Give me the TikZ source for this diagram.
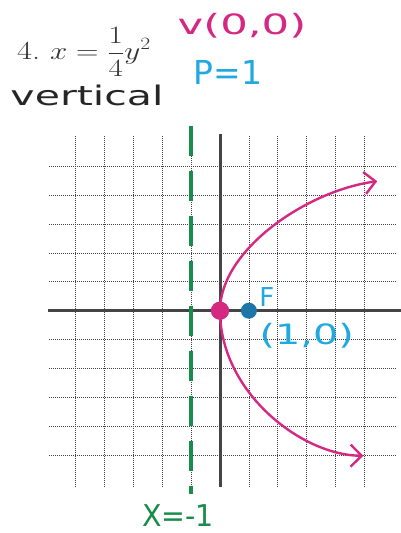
\documentclass[tikz,border=0pt]{standalone}
\usepackage{fontspec}
\usetikzlibrary{arrows.meta}
\newfontfamily\handfont{DejaVu Sans}
\definecolor{mag}{RGB}{212,40,130}
\definecolor{cya}{RGB}{32,168,224}
\definecolor{grn}{RGB}{24,140,74}
\definecolor{fblue}{RGB}{28,118,168}
\definecolor{axisc}{RGB}{68,68,68}
\begin{document}
\begin{tikzpicture}[x=1pt,y=-1pt,
  gridline/.style={draw=black!75, line width=0.65pt, dash pattern=on 0.9pt off 1.1pt},
  axisline/.style={draw=axisc, line width=3pt},
  directrix/.style={draw=grn, line width=3.6pt, dash pattern=on 30pt off 15pt},
  curve/.style={draw=mag, line width=2.4pt, line cap=round, line join=round},
  bothbarbs/.style={arrows={Straight Barb[length=11pt,width=22pt]-Straight Barb[length=11pt,width=22pt]}},
  handtext/.style={font=\handfont, inner sep=0pt},
  pt/.style={circle, inner sep=0pt, draw=none}]
\useasboundingbox (0,0) rectangle (401,533);
\fill[white] (0,0) rectangle (401,533);
% header texts
\node[inner sep=0pt, text=black!80, font=\fontsize{26}{30}\selectfont, xscale=1.25] (eq) at (84,52) {4.\ $\displaystyle x=\frac{1}{4}y^{2}$};
\node[handtext, text=black!85, font=\handfont\fontsize{27}{30}\selectfont, xscale=1.52] (vert) at (87,95) {vertical};
\node[handtext, text=mag, font=\handfont\fontsize{28}{30}\selectfont, xscale=1.55] (vtx) at (242,26) {v(0,0)};
\node[handtext, text=cya, font=\handfont\fontsize{33}{36}\selectfont] (p) at (228,72) {P=1};
\node[handtext, text=grn, font=\handfont\fontsize{30}{33}\selectfont, xscale=0.95] (dir) at (178,516) {X=-1};
\begin{scope}[shift={(220pt,-310.7pt)}, x=28.9pt, y=28.9pt]
  \foreach \k in {-5,...,-1,1,2,...,5} {
    \draw[gridline] (\k,-6.1) -- (\k,6.05);
    \draw[gridline] (-5.9,\k) -- (6.1,\k);
  }
  \draw[axisline] (-5.95,0) -- (6.25,0);
  \draw[axisline] (0,-6.1) -- (0,6.1);
  \draw[directrix] (-1,6.4) -- (-1,-6.35);
  \node[pt, fill=mag, minimum size=18pt] (V) at (0,0) {};
  \node[pt, fill=fblue, minimum size=16pt] (F) at (1,0) {};
  \coordinate (lowend) at (4.96,-5.02);
  \coordinate (upend) at (5.44,4.48);
  \draw[curve, bothbarbs] (lowend) .. controls (2.8,-5.0) and (0,-2.8) .. (V.center)
    .. controls (0,2.1) and (3,4.15) .. (upend);
  \node[pt, fill=mag, minimum size=18pt] at (V) {};
  \node[handtext, text=cya, font=\handfont\fontsize{26}{28}\selectfont] (Flab) at (1.62,0.48) {F};
  \node[handtext, text=cya, font=\handfont\fontsize{28}{30}\selectfont, xscale=1.42] (Fcoord) at (3.0,-0.86) {(1,0)};
\end{scope}
\end{tikzpicture}
\end{document}
